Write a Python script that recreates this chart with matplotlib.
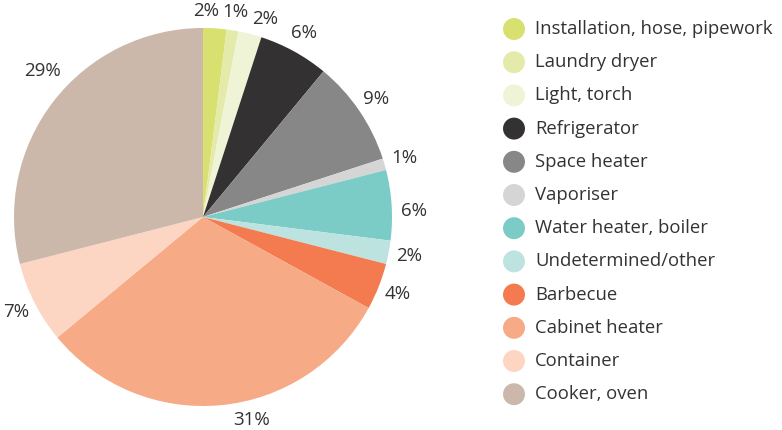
import matplotlib.pyplot as plt
import numpy as np

# Data
categories = [
    "Installation, hose, pipework", "Laundry dryer", "Light, torch",
    "Refrigerator", "Space heater", "Vaporiser", "Water heater, boiler",
    "Undetermined/other", "Barbecue", "Cabinet heater", "Container",
    "Cooker, oven",
]
shares = [2, 1, 2, 6, 9, 1, 6, 2, 4, 31, 7, 29]
colors = [
    "#d8e070", "#e4eaaa", "#eff4d6", "#333132", "#878787", "#d5d5d5",
    "#7bccc7", "#bde3e0", "#f47b4f", "#f6aa86", "#fdd5c3", "#cbb8ab",
]

plt.rcParams["font.family"] = ["Open Sans", "DejaVu Sans"]
TEXT = "#333333"

fig = plt.figure(figsize=(7.82, 4.30), dpi=100)

# Pie axes: center (203, 217) px, radius ~189 px
W, H = 782, 430
cx, cy, r = 203, 217, 189
ax = fig.add_axes([(cx - r) / W, (H - cy - r) / H, 2 * r / W, 2 * r / H])
wedges, texts, autotexts = ax.pie(
    shares, colors=colors, startangle=90, counterclock=False,
    autopct=lambda p: f"{p:.0f}%", pctdistance=1.11, radius=1,
    textprops=dict(color=TEXT, fontsize=13.5),
    wedgeprops=dict(linewidth=0),
)
# spread the crowded labels a little, as in the original layout
nudges = {0: (-0.055, -0.02), 1: (0.0, -0.01), 2: (0.055, -0.025),
          6: (0.01, -0.04), 9: (0.15, 0.03), 11: (0.03, 0.09)}
for i, (dx, dy) in nudges.items():
    x, y = autotexts[i].get_position()
    autotexts[i].set_position((x + dx, y + dy))

ax.set_xlim(-1, 1)
ax.set_ylim(-1, 1)
ax.set_aspect("equal")
ax.axis("off")

# Legend axes
lx0, ly_top, step = 514, 29, 33.2
lax = fig.add_axes([0, 0, 1, 1])
lax.set_xlim(0, W)
lax.set_ylim(H, 0)
lax.axis("off")
for i, (lab, col) in enumerate(zip(categories, colors)):
    y = ly_top + i * step
    lax.scatter([lx0], [y], s=250, color=col, edgecolors="none")
    lax.text(lx0 + 21, y, lab, color=TEXT, fontsize=13.3, va="center", ha="left")

fig.savefig("out.png", dpi=100)
